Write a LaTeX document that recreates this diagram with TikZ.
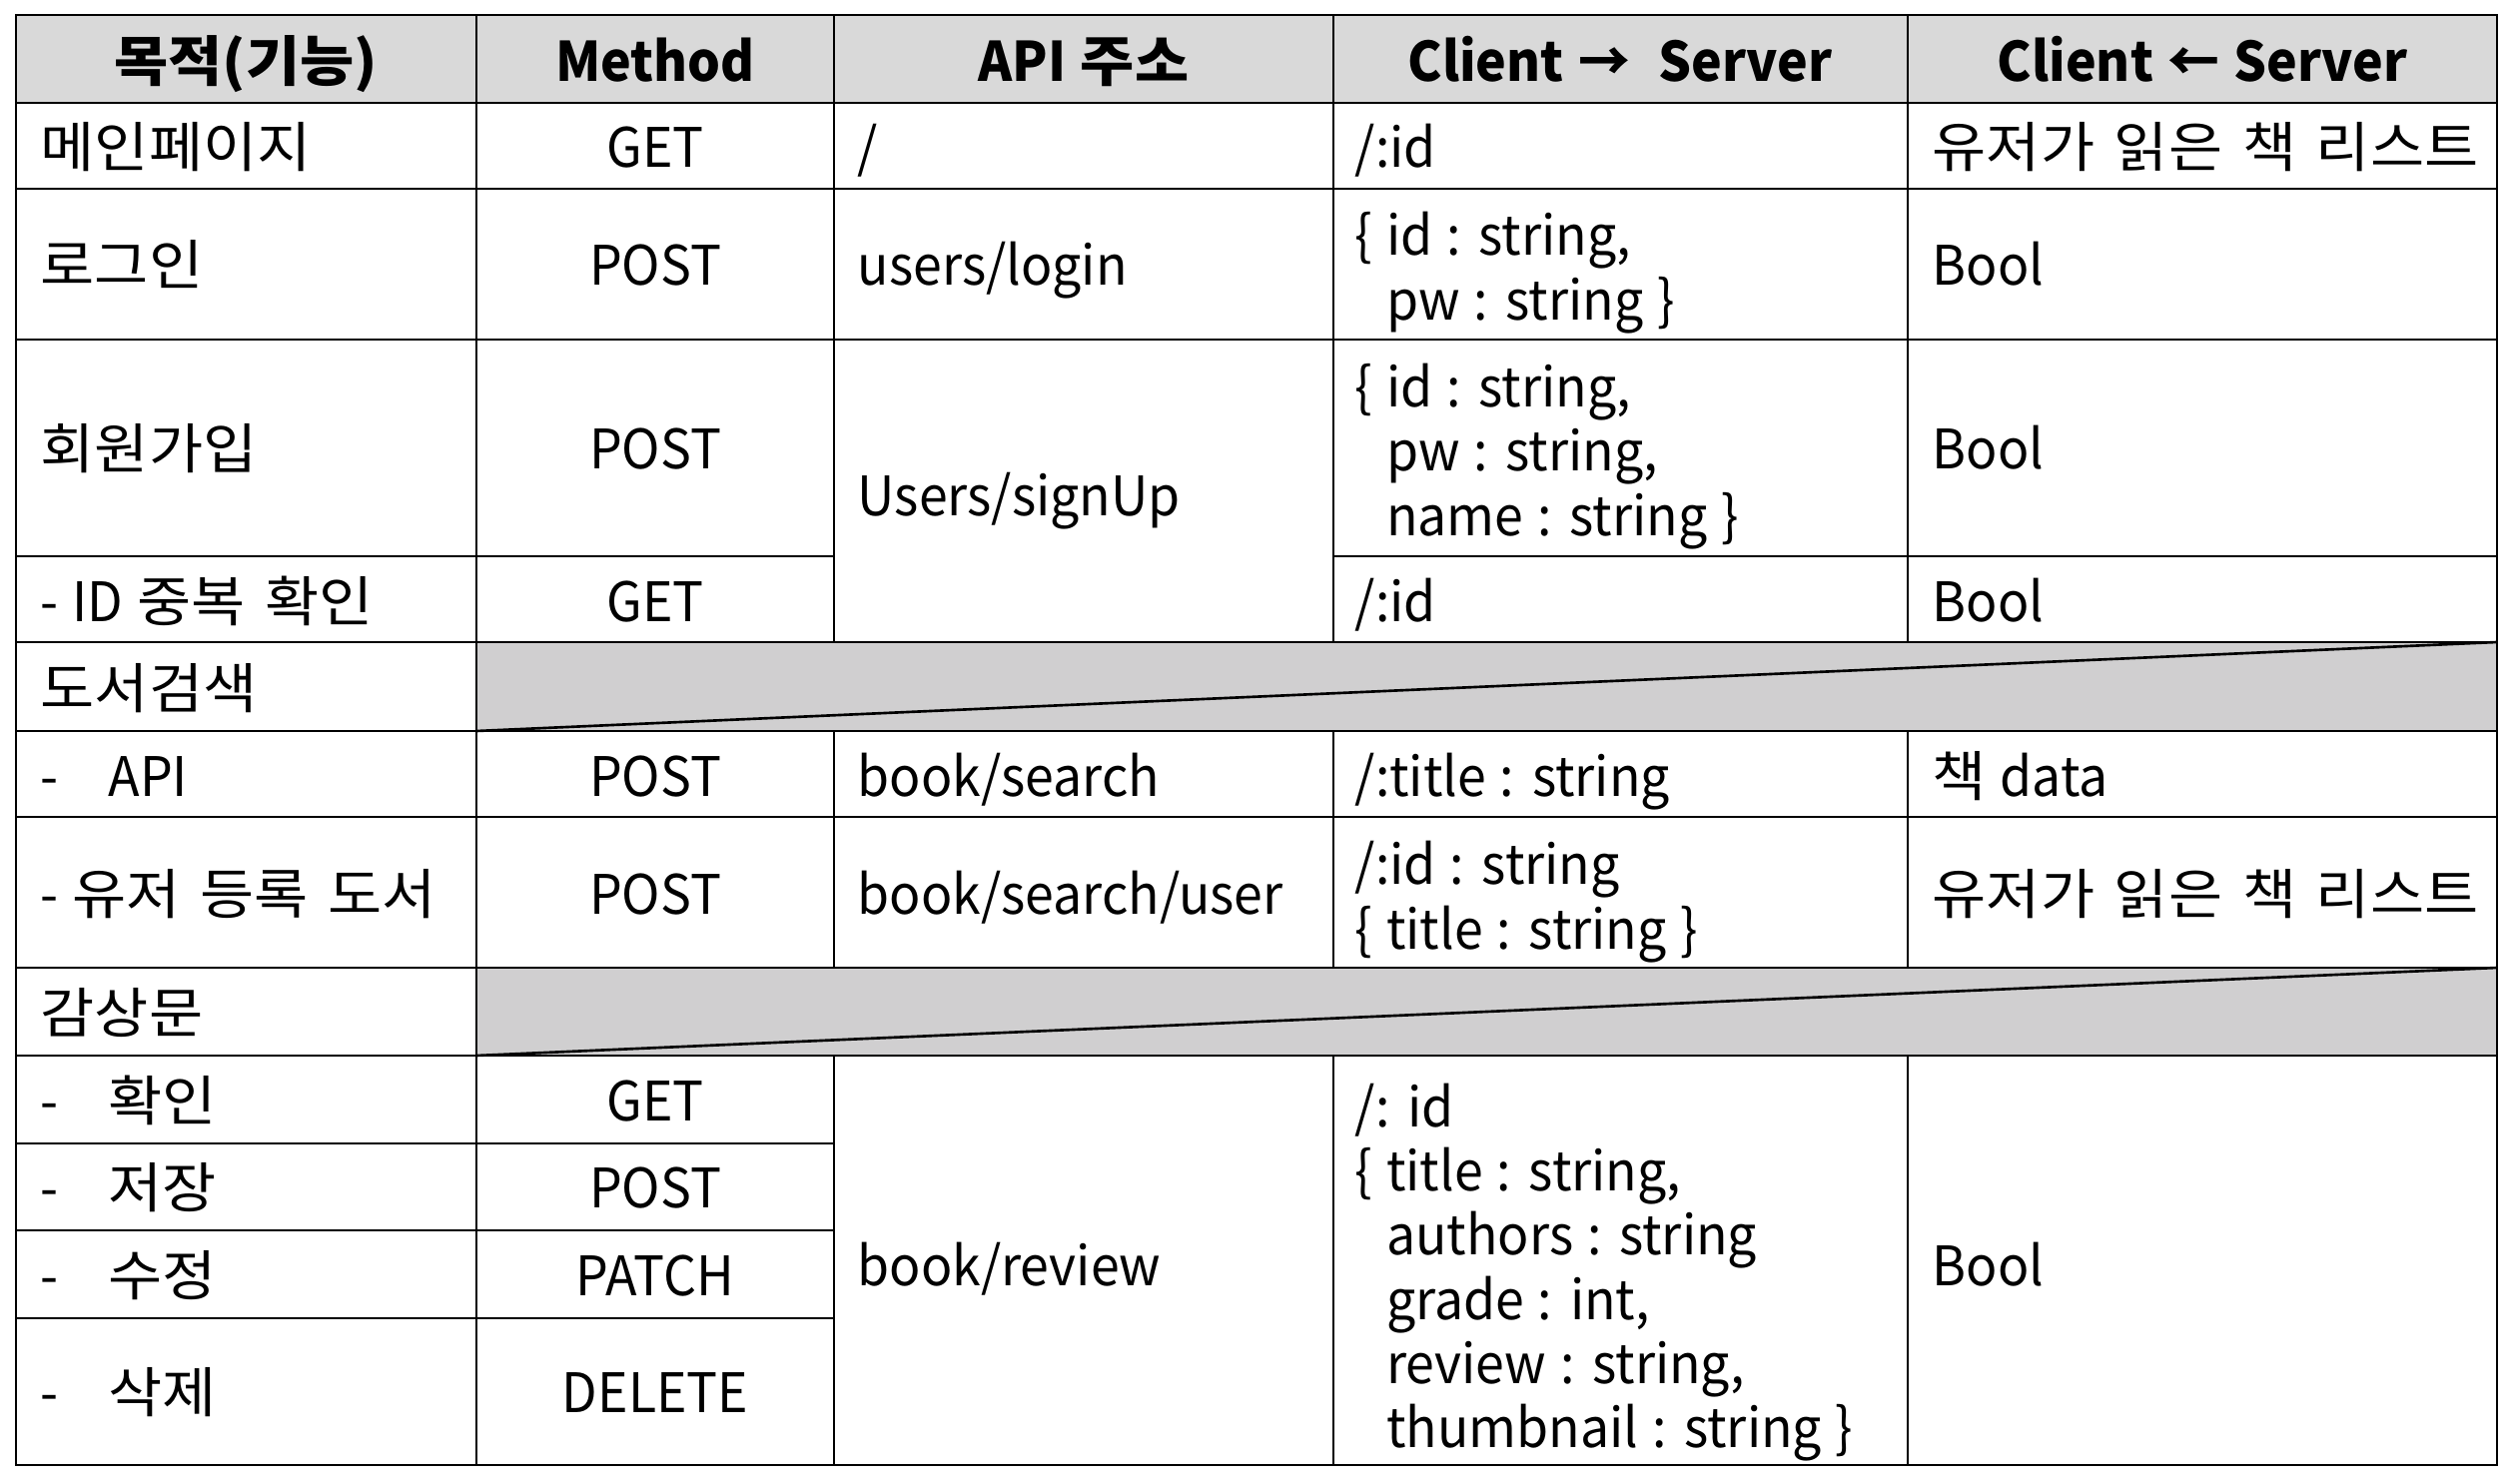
\documentclass[tikz,border=0pt]{standalone}
\usepackage{fontspec}
\setmainfont{Noto Sans CJK KR}[FakeStretch=0.95,WordSpace=1.2]
\newfontfamily\krfont{Noto Sans CJK KR}[FakeStretch=1.08,WordSpace=1.5]
\newcommand{\K}[1]{{\krfont #1}}
\definecolor{hdgray}{HTML}{D9D9D9}
\definecolor{cellgray}{HTML}{D0CFD0}
\tikzset{
  grid/.style={line width=0.75pt, black},
  txtb/.style={inner sep=0pt, font=\fontsize{15.5}{18.3}\selectfont},
  txt/.style={txtb, text height=1.1em, text depth=0pt},
  hd/.style={txt, anchor=center, font=\fontsize{15.5}{18.3}\selectfont\bfseries},
  lt/.style={txt, anchor=west},
  ml/.style={txtb, anchor=west, align=left},
  ct/.style={txt, anchor=center},
}
\begin{document}
\begin{tikzpicture}[x=0.01cm,y=-0.01cm]
\useasboundingbox (0,0) rectangle (2516,1486);
% fills
\fill[hdgray] (16,15) rectangle (2500,103);
\fill[cellgray] (477,643) rectangle (2500,732);
\fill[cellgray] (477,969) rectangle (2500,1057);
% horizontal lines
\draw[grid] (16,103) -- (2500,103);
\draw[grid] (16,189) -- (2500,189);
\draw[grid] (16,340) -- (2500,340);
\draw[grid] (16,557) -- (835,557);
\draw[grid] (1335,557) -- (2500,557);
\draw[grid] (16,643) -- (2500,643);
\draw[grid] (16,732) -- (2500,732);
\draw[grid] (16,818) -- (2500,818);
\draw[grid] (16,969) -- (2500,969);
\draw[grid] (16,1057) -- (2500,1057);
\draw[grid] (16,1145) -- (835,1145);
\draw[grid] (16,1232) -- (835,1232);
\draw[grid] (16,1320) -- (835,1320);
% vertical lines
\draw[grid] (477,15) -- (477,1467);
\draw[grid] (835,15) -- (835,643) (835,732) -- (835,969) (835,1057) -- (835,1467);
\draw[grid] (1335,15) -- (1335,643) (1335,732) -- (1335,969) (1335,1057) -- (1335,1467);
\draw[grid] (1910,15) -- (1910,643) (1910,732) -- (1910,969) (1910,1057) -- (1910,1467);
% diagonals
\draw[grid] (477,732) -- (2500,643);
\draw[grid] (477,1057) -- (2500,969);
% outer frame
\draw[grid] (16,15) rectangle (2500,1467);

% header
\node[hd] (h1) at (246,62) {\K{목적(기능)}};
\node[hd] (h2) at (656,62) {Method};
\node[hd] (h3) at (1085,62) {API \K{주소}};
\node[hd] (h4) at (1622,62) {Client →\ \ Server};
\node[hd] (h5) at (2205,62) {Client ← Server};

% row 1
\node[lt] (a1) at (40,148) {\K{메인페이지}};
\node[ct] (m1) at (656,148) {GET};
\node[lt] (p1) at (858,148) {/};
\node[lt] (q1) at (1356,148) {/:id};
\node[lt] (s1) at (1934,148) {\K{유저가 읽은 책 리스트}};
% row 2
\node[lt] (a2) at (40,266) {\K{로그인}};
\node[ct] (m2) at (656,266) {POST};
\node[lt] (p2) at (858,266) {users/login};
\node[ml] (q2) at (1356,273) {\{ id : string,\\\hphantom{\{ }pw : string \}};
\node[lt] (s2) at (1934,266) {Bool};
% row 3
\node[lt] (a3) at (40,450) {\K{회원가입}};
\node[ct] (m3) at (656,450) {POST};
\node[lt] (p3) at (858,497) {Users/signUp};
\node[ml] (q3) at (1356,457) {\{ id : string,\\\hphantom{\{ }pw : string,\\\hphantom{\{ }name : string \}};
\node[lt] (s3) at (1934,450) {Bool};
% row 4
\node[lt] (a4) at (40,603) {- ID \K{중복 확인}};
\node[ct] (m4) at (656,603) {GET};
\node[lt] (q4) at (1356,603) {/:id};
\node[lt] (s4) at (1934,603) {Bool};
% row 5
\node[lt] (a5) at (40,690) {\K{도서검색}};
% row 6
\node[lt] (a6) at (40,778) {\makebox[0.68cm][l]{-}API};
\node[ct] (m6) at (656,778) {POST};
\node[lt] (p6) at (858,778) {book/search};
\node[lt] (q6) at (1356,778) {/:title : string};
\node[lt] (s6) at (1934,778) {\K{책} data};
% row 7
\node[lt] (a7) at (40,896) {- \K{유저 등록 도서}};
\node[ct] (m7) at (656,896) {POST};
\node[lt] (p7) at (858,896) {book/search/user};
\node[ml] (q7) at (1356,903) {/:id : string\\\{ title : string \}};
\node[lt] (s7) at (1934,896) {\K{유저가 읽은 책 리스트}};
% row 8
\node[lt] (a8) at (40,1015) {\K{감상문}};
% rows 9-12
\node[lt] (a9) at (40,1103) {\makebox[0.68cm][l]{-}\K{확인}};
\node[ct] (m9) at (656,1103) {GET};
\node[lt] (a10) at (40,1190) {\makebox[0.68cm][l]{-}\K{저장}};
\node[ct] (m10) at (656,1190) {POST};
\node[lt] (a11) at (40,1278) {\makebox[0.68cm][l]{-}\K{수정}};
\node[ct] (m11) at (656,1278) {PATCH};
\node[lt] (a12) at (40,1395) {\makebox[0.68cm][l]{-}\K{삭제}};
\node[ct] (m12) at (656,1395) {DELETE};
\node[lt] (p9) at (858,1268) {book/review};
\node[ml] (q9) at (1356,1274) {/: id\\\{ title : string,\\\hphantom{\{ }authors : string\\\hphantom{\{ }grade : int,\\\hphantom{\{ }review : string,\\\hphantom{\{ }thumbnail : string \}};
\node[lt] (s9) at (1934,1268) {Bool};
\end{tikzpicture}
\end{document}
